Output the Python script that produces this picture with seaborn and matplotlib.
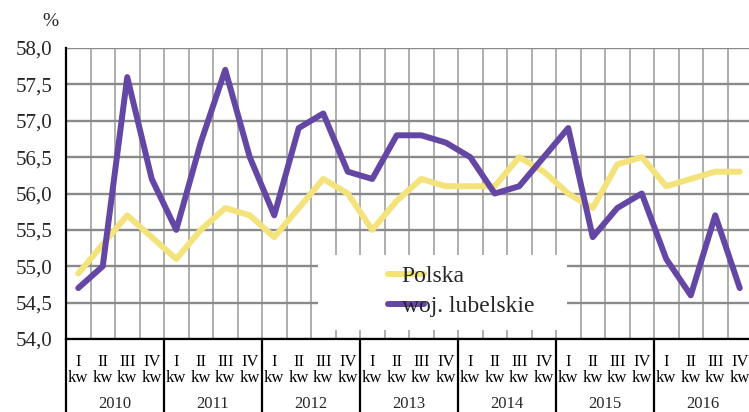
import numpy as np
import pandas as pd
import matplotlib
matplotlib.use("Agg")
import matplotlib.pyplot as plt
import matplotlib.patches as mpatches
import seaborn as sns

# ── Data ──────────────────────────────────────────────────────────────────────
years    = ["2010", "2011", "2012", "2013", "2014", "2015", "2016"]
quarters = ["I\nkw", "II\nkw", "III\nkw", "IV\nkw"]

polska = [54.9, 55.3, 55.7, 55.4,
          55.1, 55.5, 55.8, 55.7,
          55.4, 55.8, 56.2, 56.0,
          55.5, 55.9, 56.2, 56.1,
          56.1, 56.1, 56.5, 56.3,
          56.0, 55.8, 56.4, 56.5,
          56.1, 56.2, 56.3, 56.3]
lubelskie = [54.7, 55.0, 57.6, 56.2,
             55.5, 56.7, 57.7, 56.5,
             55.7, 56.9, 57.1, 56.3,
             56.2, 56.8, 56.8, 56.7,
             56.5, 56.0, 56.1, 56.5,
             56.9, 55.4, 55.8, 56.0,
             55.1, 54.6, 55.7, 54.7]

yticks = [54.0, 54.5, 55.0, 55.5, 56.0, 56.5, 57.0, 57.5, 58.0]

n = len(polska)
x = np.arange(n)
df = pd.concat([
    pd.DataFrame({"x": x, "val": polska, "seria": "Polska"}),
    pd.DataFrame({"x": x, "val": lubelskie, "seria": "woj. lubelskie"}),
])

# ── Style ─────────────────────────────────────────────────────────────────────
sns.set_theme(style="white")
plt.rcParams["font.family"] = ["Liberation Serif", "DejaVu Serif"]

fig = plt.figure(figsize=(7.49, 4.12), dpi=100)
ax = fig.add_axes([66 / 749, 73 / 412, 686 / 749, 291 / 412])
ax.set_axisbelow(True)

sns.lineplot(data=df, x="x", y="val", hue="seria",
             palette={"Polska": "#F4E27A", "woj. lubelskie": "#6447A5"},
             linewidth=4.3, ax=ax, legend=False, zorder=3,
             solid_capstyle="round", solid_joinstyle="round")

ax.set_xlim(-0.5, n - 0.5)
ax.set_ylim(54.0, 58.0)
ax.set_yticks(yticks)
ax.set_yticklabels([f"{v:.1f}".replace(".", ",") for v in yticks], fontsize=15)
ax.set_xticks(x)
ax.set_xticklabels([quarters[i % 4] for i in x], fontsize=12, linespacing=1.0)
ax.set_xticks(np.arange(-0.5, n, 1), minor=True)
ax.tick_params(axis="x", which="both", length=0, pad=11, colors="black")
ax.tick_params(axis="y", length=6, width=1.5, color="black", direction="out", pad=4)
ax.set_xlabel("")
ax.set_ylabel("")

ax.grid(axis="y", color="#8a8a8a", linewidth=1.7)
ax.grid(axis="x", which="minor", color="#a8a8a8", linewidth=1.3)
ax.grid(axis="x", which="major", visible=False)

for s in ["top", "right"]:
    ax.spines[s].set_visible(False)
for s in ["left", "bottom"]:
    ax.spines[s].set_color("black")
    ax.spines[s].set_linewidth(1.6)

# year separators and labels below axis
trans = ax.get_xaxis_transform()
for k, yr in enumerate(years):
    b = 4 * k - 0.5
    ax.plot([b, b], [0, -0.26], transform=trans, color="black",
            linewidth=1.6, clip_on=False)
    ax.text(4 * k + 1.5, -0.222, yr, transform=trans, ha="center",
            va="center", fontsize=12)
ax.plot([n - 0.5, n - 0.5], [0, -0.26], transform=trans, color="black",
        linewidth=1.6, clip_on=False)

fig.text(50 / 749, 1 - 22 / 412, "%", ha="center", va="center", fontsize=14)

# legend on white box
box = mpatches.Rectangle((0.368, 0.031), 0.362, 0.258, transform=ax.transAxes,
                         facecolor="white", edgecolor="none", zorder=2)
ax.add_patch(box)
handles = [plt.Line2D([], [], color="#F4E27A", linewidth=4.3),
           plt.Line2D([], [], color="#6447A5", linewidth=4.3)]
leg = ax.legend(handles, ["Polska", "woj. lubelskie"], loc="upper left",
                bbox_to_anchor=(0.455, 0.285), frameon=False, fontsize=17,
                handlelength=1.55, handletextpad=-0.95, labelspacing=0.35,
                borderaxespad=0)
leg.set_zorder(5)

fig.savefig("out.png", dpi=100)
